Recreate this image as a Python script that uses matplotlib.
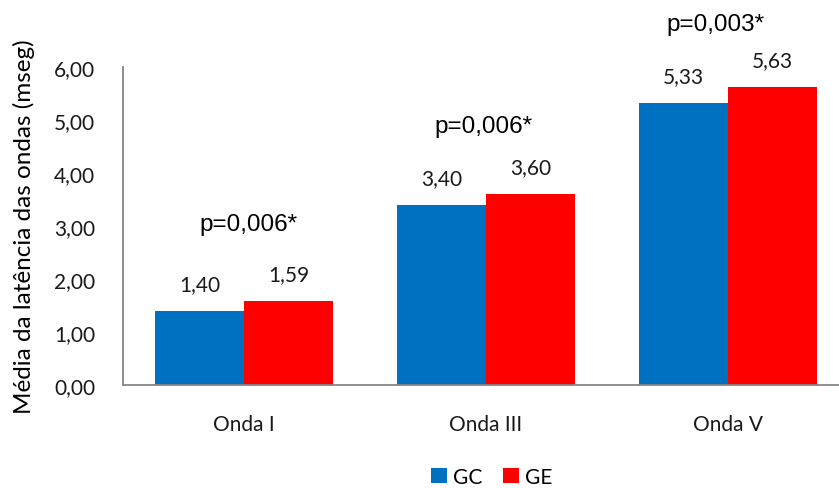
import matplotlib
matplotlib.use("Agg")
import matplotlib.pyplot as plt
import numpy as np

categories = ["Onda I", "Onda III", "Onda V"]
gc_values = [1.40, 3.40, 5.33]
ge_values = [1.59, 3.60, 5.63]
p_labels = ["p=0,006*", "p=0,006*", "p=0,003*"]
series_names = ["GC", "GE"]
y_ticks = [0, 1, 2, 3, 4, 5, 6]

BLUE = "#0070C0"
RED = "#FF0000"
SPINE = "#868686"
BODY = ["Lato", "DejaVu Sans"]
ARIAL = ["Liberation Sans", "DejaVu Sans"]

def fmt(v):
    return f"{v:.2f}".replace(".", ",")

fig = plt.figure(figsize=(8.39, 4.89), dpi=100)
W, H = 839, 489
ax = fig.add_axes([123 / W, (H - 386) / H, (849 - 123) / W, (386 - 68) / H])

x = np.arange(len(categories))
bw = 0.367
b1 = ax.bar(x - bw / 2, gc_values, bw, color=BLUE, label=series_names[0])
b2 = ax.bar(x + bw / 2, ge_values, bw, color=RED, label=series_names[1])

for bars, vals in ((b1, gc_values), (b2, ge_values)):
    for rect, v in zip(bars, vals):
        ax.annotate(fmt(v), (rect.get_x() + rect.get_width() / 2, v),
                    xytext=(0, 12), textcoords="offset points",
                    ha="center", va="bottom", fontsize=15,
                    family=BODY, color="#1a1a1a")

# significance labels above each group
p_y = [3.04, 4.89, 6.81]
p_dx = [0.02, -0.01, -0.05]
for xi, lab, yy, dx in zip(x, p_labels, p_y, p_dx):
    ax.text(xi + dx, yy, lab, ha="center", va="center", fontsize=17.5,
            family=ARIAL, color="black", clip_on=False)

ax.set_xlim(-0.5, 2.5)
ax.set_ylim(0, 6)
ax.set_yticks(y_ticks)
ax.set_yticklabels([fmt(t) for t in y_ticks], family=BODY, fontsize=15)
ax.set_xticks(x)
ax.set_xticklabels(categories, family=BODY, fontsize=15)
ax.tick_params(axis="both", length=0, pad=20, colors="#1a1a1a")
ax.tick_params(axis="x", pad=21)

for s in ("top", "right"):
    ax.spines[s].set_visible(False)
for s in ("left", "bottom"):
    ax.spines[s].set_color(SPINE)
    ax.spines[s].set_linewidth(1.3)

ax.set_ylabel("Média da latência das ondas (mseg)", family=BODY,
              fontsize=17.5, color="black", labelpad=14)

fig.legend(handles=[b1, b2], labels=series_names, loc="center",
           bbox_to_anchor=(492 / W, 1 - 478 / H), ncol=2, frameon=False,
           prop={"family": BODY, "size": 15}, handlelength=0.75,
           handleheight=0.75, handletextpad=0.3, columnspacing=1.0)

fig.savefig("out.png", dpi=100)
